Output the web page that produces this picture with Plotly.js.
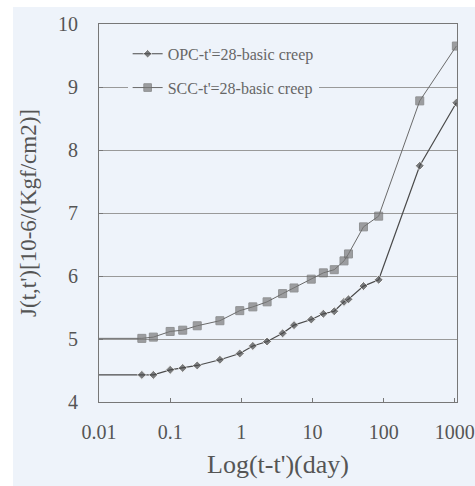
<!DOCTYPE html>
<html>
<head>
<meta charset="utf-8">
<script src="https://cdn.plot.ly/plotly-3.0.1.min.js"></script>
<style>
  html, body { margin: 0; padding: 0; background: #ffffff; }
  #chart { position: absolute; left: 13px; top: 7px; width: 462px; height: 479px; }
</style>
</head>
<body>
<div id="chart"></div>
<script>
// Time since loading (days); first entry is the start of the lead-in line at the axis
const timeDays = [0.01, 0.04, 0.058, 0.1, 0.15, 0.24, 0.5, 0.95, 1.45, 2.3, 3.8, 5.5, 9.6, 14.2, 20.2, 27.7, 32, 52, 85, 321, 1050];
// Creep compliance J(t,t') [10^-6/(kgf/cm2)]
const opcValues = [4.43, 4.43, 4.43, 4.51, 4.54, 4.58, 4.67, 4.77, 4.89, 4.96, 5.09, 5.22, 5.31, 5.40, 5.44, 5.59, 5.63, 5.84, 5.94, 7.75, 8.75];
const sccValues = [5.01, 5.01, 5.03, 5.12, 5.14, 5.21, 5.29, 5.45, 5.51, 5.59, 5.72, 5.81, 5.95, 6.05, 6.10, 6.24, 6.35, 6.78, 6.95, 8.78, 9.65];
const seriesNames = ["OPC-t'=28-basic creep", "SCC-t'=28-basic creep"];
const xTickVals = [0.01, 0.1, 1, 10, 100, 1000];
const xTickText = ["0.01", "0.1", "1", "10", "100", "1000"];
const yTickVals = [4, 5, 6, 7, 8, 9, 10];

const markerSizes = (s) => timeDays.map((_, i) => i === 0 ? 0 : s);

const bg = '#eef3fa';
const textColor = '#555555';
const font = 'Liberation Serif, Times New Roman, serif';

const traces = [
  {
    x: timeDays, y: opcValues, name: seriesNames[0], mode: 'lines+markers',
    legendgroup: 'a',
    line: { color: '#4a4a4a', width: 1.2 },
    marker: { symbol: 'diamond', size: markerSizes(7), color: '#4a4a4a' }
  },
  {
    x: timeDays, y: sccValues, name: seriesNames[1], mode: 'lines+markers',
    legendgroup: 'b',
    line: { color: '#6a6a6a', width: 1 },
    marker: { symbol: 'square', size: markerSizes(8), color: '#7a7a7a' }
  }
];

const layout = {
  width: 462, height: 479,
  paper_bgcolor: bg, plot_bgcolor: bg,
  margin: { l: 86, r: 18, t: 17, b: 84 },
  font: { family: font, color: textColor, size: 15 },
  showlegend: true,
  legend: {
    x: 0.08, y: 0.966, xanchor: 'left', yanchor: 'top',
    bgcolor: bg, borderwidth: 0,
    font: { family: font, size: 16, color: '#666666' },
    traceorder: 'grouped', tracegroupgap: 10,
    itemwidth: 30
  },
  xaxis: {
    type: 'log', range: [-2, 3.03],
    tickvals: xTickVals, ticktext: xTickText,
    ticks: 'inside', ticklen: 4, tickcolor: '#777',
    showgrid: false, zeroline: false,
    showline: true, linecolor: '#777', linewidth: 1, mirror: true,
    tickfont: { family: font, size: 20, color: textColor },
    ticklabelstandoff: 12,
    title: { text: "Log(t-t')(day)", font: { family: font, size: 26, color: textColor }, standoff: 12 },
    automargin: false
  },
  yaxis: {
    range: [4, 10], tickvals: yTickVals,
    ticks: 'inside', ticklen: 4, tickcolor: '#777',
    showgrid: true, gridcolor: '#999999', gridwidth: 1, zeroline: false,
    showline: true, linecolor: '#777', linewidth: 1, mirror: true,
    tickfont: { family: font, size: 20, color: textColor },
    ticklabelstandoff: 16,
    title: { text: "J(t,t')[10-6/(Kgf/cm2)]", font: { family: font, size: 23, color: textColor }, standoff: 14 },
    automargin: false
  }
};

Plotly.newPlot('chart', traces, layout, { displayModeBar: false, staticPlot: true });
</script>
</body>
</html>
